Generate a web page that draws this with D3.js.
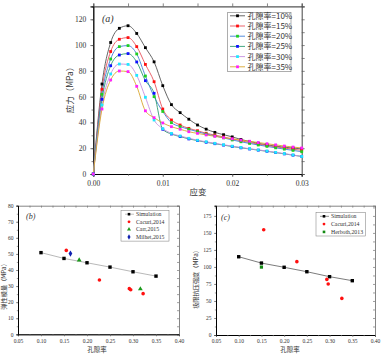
<!DOCTYPE html>
<html><head><meta charset="utf-8">
<script src="https://cdn.jsdelivr.net/npm/d3@7"></script>
<style>
body{margin:0;background:#fff;}
svg{display:block;}
text{font-family:"Liberation Serif","DejaVu Serif","Noto Sans CJK SC",serif;fill:#333;}
.cjk{font-family:"Noto Sans CJK SC",sans-serif;}
</style></head><body>
<svg id="c" width="384" height="356"></svg>
<script>
// ---------- Panel (a) data ----------
const strainA = [0,0.00125,0.0025,0.00375,0.005,0.00625,0.0075,0.00875,0.01,0.01125,0.0125,0.01375,0.015,0.01625,0.0175,0.01875,0.02,0.02125,0.0225,0.02375,0.025,0.02625,0.0275,0.02875,0.03];
const seriesNamesA = ["孔隙率=10%","孔隙率=15%","孔隙率=20%","孔隙率=25%","孔隙率=30%","孔隙率=35%"];
const stress10 = [0,69.8,102,113,115,109,98,87,68.5,53.8,47.6,42.5,38,34.8,32.3,30.5,28.8,26.8,25.2,23.8,22.6,21.6,20.8,20.1,19.5];
const stress15 = [0,65.7,95,104.5,105.8,98.8,85,71.6,50.4,41.9,38,35.4,33.6,31.6,30.2,28.7,27.2,25.8,24.4,23.2,22.1,21.1,20.1,19.2,18.4];
const stress20 = [0,61.8,89.2,98.8,99.6,93.1,76,60,48.5,39.8,36.8,34.7,32.8,31,29.5,28,26.4,25,23.7,22.5,21.4,20.3,19.3,18.3,17.3];
const stress25 = [0,57.9,84,92.3,93.4,86.9,72.4,62.6,34.7,31,29,27.2,25.9,24.6,23.5,22.4,21.3,20.3,19.4,18.5,17.6,16.6,15.6,14.6,13.6];
const stress30 = [0,53.5,77.6,85.3,85,76.5,59.5,41.9,35.2,31.5,29.5,27.7,26.2,25,23.8,22.7,21.6,20.6,19.6,18.7,17.8,16.8,15.8,14.8,13.6];
const stress35 = [0,50.4,72.9,79.9,79.4,68,49,43.7,39.6,36.7,34.7,32.8,31.5,30.3,29.2,28.2,27.3,26.3,25.4,24.4,23.5,22.6,21.7,20.9,20.2];
const lineColorsA = ["#555555","#e8505a","#3f7fd6","#2e9c72","#c48ee0","#d9a62e"];
const markColorsA = ["#000000","#ff1010","#20d020","#1010ff","#20e8ff","#ff20ff"];
const yTicksA = [0,20,40,60,80,100,120];
const xTicksA = [0,0.01,0.02,0.03];

// ---------- Panel (b) data ----------
const porosityB = [0.10,0.15,0.20,0.25,0.30,0.35];
const simModulus = [50.8,47.2,44.5,41.8,38.9,36.2];
const cacuriBx = [0.155,0.227,0.292,0.295,0.322];
const cacuriBy = [52.2,33.8,28.4,27.7,25.3];
const carrBx = [0.183,0.316];
const carrBy = [46.2,28.2];
const milhetBx = [0.164];
const milhetBy = [50.2];

// ---------- Panel (c) data ----------
const porosityC = [0.10,0.15,0.20,0.25,0.30,0.35];
const simStrength = [115,105.7,99.5,93,85.7,79.8];
const cacuriCx = [0.155,0.228,0.294,0.297,0.327];
const cacuriCy = [154.6,107.8,81.7,74.9,53.8];
const herbothCx = [0.15];
const herbothCy = [99.8];
const xTicksBC = [0.05,0.10,0.15,0.20,0.25,0.30,0.35,0.40];

const svg = d3.select("#c");

function frame(g, x, y, opts){
  const [x0,x1] = x.range(), [y0,y1] = y.range();
  const col = opts.col || "#555";
  const inner = opts.inner ? -1 : 1;
  const bx = g.append("g").attr("transform",`translate(0,${y0})`)
    .call(d3.axisBottom(x).tickValues(opts.xMajor).tickSize(opts.tk).tickPadding(opts.pad).tickFormat(opts.xFmt));
  const by = g.append("g").attr("transform",`translate(${x0},0)`)
    .call(d3.axisLeft(y).tickValues(opts.yMajor).tickSize(opts.tk).tickPadding(opts.pad).tickFormat(opts.yFmt));
  const tx = g.append("g").attr("transform",`translate(0,${y1})`)
    .call(d3.axisTop(x).tickValues(opts.xMinor).tickSize(opts.tk*inner).tickFormat(""));
  const ry = g.append("g").attr("transform",`translate(${x1},0)`)
    .call(d3.axisRight(y).tickValues(opts.yMinor).tickSize(opts.tk*inner).tickFormat(""));
  g.append("g").attr("transform",`translate(0,${y0})`)
    .call(d3.axisBottom(x).tickValues(opts.xMinor).tickSize(opts.tk*0.6).tickFormat(""));
  g.append("g").attr("transform",`translate(${x0},0)`)
    .call(d3.axisLeft(y).tickValues(opts.yMinor).tickSize(opts.tk*0.6).tickFormat(""));
  [bx,by,tx,ry].forEach(a=>{a.selectAll(".domain").attr("stroke",col).attr("stroke-width",opts.sw);});
  g.selectAll(".tick line").attr("stroke",col).attr("stroke-width",0.7);
  g.selectAll(".tick text").attr("font-size",opts.fs).attr("fill",opts.lc || "#444")
    .attr("font-family","'Liberation Serif','DejaVu Serif',serif");
}

// ================= Panel (a) =================
{
  const x = d3.scaleLinear().domain([0,0.03]).range([93.3,301.7]);
  const y = d3.scaleLinear().domain([0,130]).range([174,6.4]);
  const g = svg.append("g");
  frame(g,x,y,{xMajor:xTicksA,yMajor:yTicksA,
    xMinor:d3.range(0,0.0301,0.005),yMinor:d3.range(0,131,10),
    tk:3,pad:4,sw:1.1,fs:7.5,xFmt:d3.format(".2f"),yFmt:d3.format("d")});
  const all = [stress10,stress15,stress20,stress25,stress30,stress35];
  const line = d3.line().x((d,i)=>x(strainA[i])).y(d=>y(d)).curve(d3.curveMonotoneX);
  all.forEach((s,k)=>{
    g.append("path").attr("d",line(s)).attr("fill","none").attr("stroke",lineColorsA[k]).attr("stroke-width",0.9);
  });
  all.forEach((s,k)=>{
    g.selectAll(null).data(s).join("rect")
      .attr("x",(d,i)=>x(strainA[i])-1.4).attr("y",d=>y(d)-1.4)
      .attr("width",2.8).attr("height",2.8).attr("fill",markColorsA[k]);
  });
  g.append("text").attr("x",102).attr("y",22).attr("font-size",10).attr("font-style","italic").text("(a)");
  g.append("rect").attr("x",227.7).attr("y",12.3).attr("width",63.3).attr("height",59.4)
    .attr("fill","#fff").attr("stroke","#777").attr("stroke-width",0.6);
  seriesNamesA.forEach((n,k)=>{
    const yy = 15.8 + k*10.2;
    g.append("line").attr("x1",230).attr("x2",245).attr("y1",yy).attr("y2",yy).attr("stroke",lineColorsA[k]).attr("stroke-width",0.9);
    g.append("rect").attr("x",236.1).attr("y",yy-1.4).attr("width",2.8).attr("height",2.8).attr("fill",markColorsA[k]);
    g.append("text").attr("class","cjk").attr("x",247.5).attr("y",yy+2.9).attr("font-size",8).text(n);
  });
  g.append("text").attr("class","cjk").attr("transform","translate(73,88) rotate(-90)")
    .attr("text-anchor","middle").attr("font-size",8.5).text("应力（MPa）");
  g.append("text").attr("class","cjk").attr("x",198).attr("y",195)
    .attr("text-anchor","middle").attr("font-size",8.5).text("应变");
}

function scatterPanel(opts){
  const x = d3.scaleLinear().domain([0.05,0.40]).range(opts.xr);
  const y = d3.scaleLinear().domain(opts.yd).range(opts.yr);
  const g = svg.append("g");
  frame(g,x,y,{xMajor:xTicksBC,yMajor:opts.yMajor,xMinor:opts.xMinor,yMinor:opts.yMinor,
    tk:2,pad:2.5,sw:0.9,fs:5.5,col:"#777",lc:"#555",inner:true,xFmt:d3.format(".2f"),yFmt:d3.format("d")});
  g.append("path").attr("d",d3.line().x((d,i)=>x(opts.simX[i])).y(d=>y(d))(opts.simY))
    .attr("fill","none").attr("stroke",opts.simLine).attr("stroke-width",0.7);
  g.selectAll(null).data(opts.simY).join("rect")
    .attr("x",(d,i)=>x(opts.simX[i])-1.7).attr("y",d=>y(d)-1.7).attr("width",3.4).attr("height",3.4).attr("fill","#000");
  opts.groups.forEach(gr=>{
    gr.ys.forEach((v,i)=>{
      const cx=x(gr.xs[i]), cy=y(v);
      if(gr.shape==="circle") g.append("circle").attr("cx",cx).attr("cy",cy).attr("r",1.8).attr("fill",gr.color);
      else if(gr.shape==="tri") g.append("path").attr("d",d3.symbol(d3.symbolTriangle,10)()).attr("transform",`translate(${cx},${cy})`).attr("fill",gr.color);
      else if(gr.shape==="diamond") g.append("path").attr("d",d3.symbol(d3.symbolDiamond,12)()).attr("transform",`translate(${cx},${cy})`).attr("fill",gr.color);
      else g.append("rect").attr("x",cx-1.6).attr("y",cy-1.6).attr("width",3.2).attr("height",3.2).attr("fill",gr.color);
    });
  });
  g.append("text").attr("x",opts.tag[0]).attr("y",opts.tag[1]).attr("font-size",8).attr("font-style","italic").text(opts.tag[2]);
  const L = opts.legend;
  g.append("rect").attr("x",L.x).attr("y",L.y).attr("width",L.w).attr("height",L.h)
    .attr("fill","#fff").attr("stroke","#777").attr("stroke-width",0.5);
  const items = [{name:"Simulation",shape:"sim",color:"#000"}].concat(opts.groups);
  items.forEach((it,k)=>{
    const yy = L.y + 3.6 + k*L.dy, mx = L.x + 8;
    if(it.shape==="sim"){
      g.append("line").attr("x1",mx-4).attr("x2",mx+5).attr("y1",yy).attr("y2",yy).attr("stroke",opts.simLine).attr("stroke-width",0.6);
      g.append("rect").attr("x",mx-1.3).attr("y",yy-1.3).attr("width",2.6).attr("height",2.6).attr("fill","#000");
    } else if(it.shape==="circle") g.append("circle").attr("cx",mx).attr("cy",yy).attr("r",1.4).attr("fill",it.color);
    else if(it.shape==="tri") g.append("path").attr("d",d3.symbol(d3.symbolTriangle,7)()).attr("transform",`translate(${mx},${yy})`).attr("fill",it.color);
    else if(it.shape==="diamond") g.append("path").attr("d",d3.symbol(d3.symbolDiamond,8)()).attr("transform",`translate(${mx},${yy})`).attr("fill",it.color);
    else g.append("rect").attr("x",mx-1.3).attr("y",yy-1.3).attr("width",2.6).attr("height",2.6).attr("fill",it.color);
    g.append("text").attr("x",L.x+15).attr("y",yy+2).attr("font-size",5.8).attr("fill","#333").text(it.name);
  });
  g.append("text").attr("class","cjk").attr("transform",`translate(${opts.ylab[0]},${opts.ylab[1]}) rotate(-90)`)
    .attr("text-anchor","middle").attr("font-size",6.2).text(opts.ylab[2]);
  g.append("text").attr("class","cjk").attr("x",opts.xlab[0]).attr("y",opts.xlab[1])
    .attr("text-anchor","middle").attr("font-size",6.5).text("孔隙率");
}

scatterPanel({xr:[18,179],yd:[0,80],yr:[334.3,205.7],yMajor:d3.range(0,81,10),
  xMinor:d3.range(0.05,0.401,0.025),yMinor:d3.range(0,81,5),
  simX:porosityB,simY:simModulus,simLine:"#999",
  groups:[{name:"Cacuri,2014",shape:"circle",color:"#ff1010",xs:cacuriBx,ys:cacuriBy},
          {name:"Carr,2015",shape:"tri",color:"#1a9a1a",xs:carrBx,ys:carrBy},
          {name:"Milhet,2015",shape:"diamond",color:"#1020b0",xs:milhetBx,ys:milhetBy}],
  tag:[26,219,"(b)"],legend:{x:121,y:210.6,w:48,h:30.5,dy:7.6},
  ylab:[6,285,"弹性模量（MPa）"],xlab:[97,352]});

scatterPanel({xr:[216,375],yd:[0,190],yr:[335,205.7],yMajor:d3.range(0,176,25),
  xMinor:d3.range(0.05,0.401,0.025),yMinor:d3.range(0,190,12.5),
  simX:porosityC,simY:simStrength,simLine:"#444",
  groups:[{name:"Cacuri,2014",shape:"circle",color:"#ff1010",xs:cacuriCx,ys:cacuriCy},
          {name:"Herboth,2013",shape:"square",color:"#138a13",xs:herbothCx,ys:herbothCy}],
  tag:[221,219.5,"(c)"],legend:{x:316,y:212.7,w:49.7,h:23.3,dy:7.8},
  ylab:[198,278,"极限抗压强度（MPa）"],xlab:[290,352]});
</script>
</body></html>
